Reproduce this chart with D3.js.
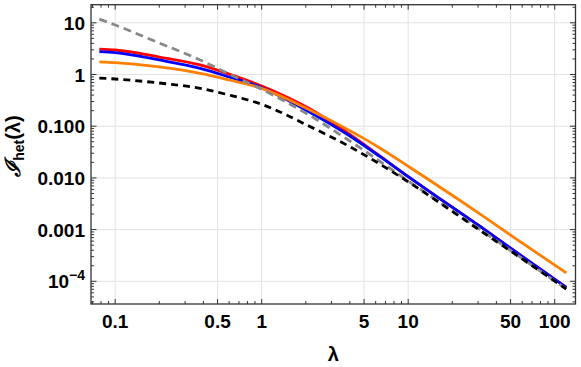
<!DOCTYPE html>
<html>
<head>
<meta charset="utf-8">
<script src="https://cdn.jsdelivr.net/npm/d3@7"></script>
<style>
  body { margin: 0; background: #fff; }
  text { font-family: "Liberation Sans", Arial, sans-serif; }
</style>
</head>
<body>
<div id="chart"></div>
<script>
// sample points (lambda, I_het)
var lambdas = [0.078, 0.1, 0.2, 0.38, 0.6, 1, 2.1, 4, 6.4, 10, 14, 31, 50, 120];
var redVals    = [3.11, 2.98, 2.18, 1.53, 1.02, 0.60, 0.222, 0.0692, 0.0266, 0.0106, 0.00543, 0.00115, 4.37e-4, 7.6e-5];
var blueVals   = [2.76, 2.64, 1.91, 1.32, 0.895, 0.556, 0.1906, 0.0646, 0.026, 0.0106, 0.00543, 0.00115, 4.37e-4, 7.6e-5];
var orangeVals = [1.75, 1.69, 1.40, 1.05, 0.783, 0.541, 0.211, 0.0822, 0.038, 0.0168, 0.00902, 0.001995, 7.85e-4, 1.45e-4];
var grayVals   = [11.8, 9.07, 4.07, 1.91, 1.02, 0.517, 0.165, 0.0517, 0.021, 0.0087, 0.00457, 0.001004, 3.94e-4, 7.1e-5];
var blackVals  = [0.855, 0.818, 0.685, 0.541, 0.401, 0.265, 0.101, 0.0401, 0.01857, 0.00841, 0.00447, 9.6e-4, 3.85e-4, 7.1e-5];

var xTickValues = [0.1, 0.5, 1, 5, 10, 50, 100];
var xTickLabels = ["0.1", "0.5", "1", "5", "10", "50", "100"];
var yTickValues = [10, 1, 0.1, 0.01, 0.001, 1e-4];
var yTickLabels = ["10", "1", "0.100", "0.010", "0.001", "10^-4"];

var width = 581, height = 367;
var pLeft = 91, pRight = 575.5, pTop = 4.7, pBottom = 304;

var x = d3.scaleLog().domain([0.0684, 138.7]).range([pLeft, pRight]);
var y = d3.scaleLog().domain([3.64e-5, 22.4]).range([pBottom, pTop]);

var svg = d3.select("#chart").append("svg")
    .attr("width", width)
    .attr("height", height);

// grid lines
svg.append("g").selectAll("line")
    .data(xTickValues)
    .enter().append("line")
    .attr("x1", function(d) { return x(d); })
    .attr("x2", function(d) { return x(d); })
    .attr("y1", pTop).attr("y2", pBottom)
    .attr("stroke", "#e3e3e3").attr("stroke-width", 1);
svg.append("g").selectAll("line")
    .data(yTickValues)
    .enter().append("line")
    .attr("y1", function(d) { return y(d); })
    .attr("y2", function(d) { return y(d); })
    .attr("x1", pLeft).attr("x2", pRight)
    .attr("stroke", "#e3e3e3").attr("stroke-width", 1);

// curves
var series = [
  {vals: redVals, color: "#ff0000", dash: null},
  {vals: blueVals, color: "#0000ff", dash: null},
  {vals: orangeVals, color: "#ff8000", dash: null},
  {vals: grayVals, color: "#888888", dash: "8,5"},
  {vals: blackVals, color: "#000000", dash: "7,5"}
];

var line = d3.line()
    .x(function(d) { return x(d[0]); })
    .y(function(d) { return y(d[1]); })
    .curve(d3.curveMonotoneX);

series.forEach(function(s) {
  var pts = lambdas.map(function(l, i) { return [l, s.vals[i]]; });
  svg.append("path")
      .datum(pts)
      .attr("d", line)
      .attr("fill", "none")
      .attr("stroke", s.color)
      .attr("stroke-width", 2.8)
      .attr("stroke-dasharray", s.dash);
});

// ticks on all four sides
var xMinor = [], yMinor = [];
for (var k = -2; k <= 2; k++) {
  for (var m = 2; m <= 9; m++) {
    var v = m * Math.pow(10, k);
    if (m != 5 && v > x.domain()[0] && v < x.domain()[1]) xMinor.push(v);
  }
}
for (var k = -5; k <= 1; k++) {
  for (var m = 2; m <= 9; m++) {
    var v = m * Math.pow(10, k);
    if (v > y.domain()[0] && v < y.domain()[1]) yMinor.push(v);
  }
}

var ticks = svg.append("g").attr("stroke", "#333").attr("stroke-width", 1);
function xTicks(vals, len) {
  vals.forEach(function(d) {
    ticks.append("line").attr("x1", x(d)).attr("x2", x(d)).attr("y1", pBottom).attr("y2", pBottom - len);
    ticks.append("line").attr("x1", x(d)).attr("x2", x(d)).attr("y1", pTop).attr("y2", pTop + len);
  });
}
function yTicks(vals, len) {
  vals.forEach(function(d) {
    ticks.append("line").attr("y1", y(d)).attr("y2", y(d)).attr("x1", pLeft).attr("x2", pLeft + len);
    ticks.append("line").attr("y1", y(d)).attr("y2", y(d)).attr("x1", pRight).attr("x2", pRight - len);
  });
}
xTicks(xTickValues, 5);
xTicks(xMinor, 3);
yTicks(yTickValues, 5.5);
yTicks(yMinor, 3);

// frame
svg.append("rect")
    .attr("x", pLeft).attr("y", pTop)
    .attr("width", pRight - pLeft).attr("height", pBottom - pTop)
    .attr("fill", "none").attr("stroke", "#333").attr("stroke-width", 1.3);

// tick labels
svg.append("g").selectAll("text")
    .data(xTickValues)
    .enter().append("text")
    .attr("x", function(d) { return x(d); })
    .attr("y", 328)
    .attr("text-anchor", "middle")
    .style("font-size", "19px")
    .style("font-weight", "bold")
    .text(function(d, i) { return xTickLabels[i]; });

yTickValues.forEach(function(d, i) {
  var t = svg.append("text")
      .attr("x", 85)
      .attr("y", y(d) + 7)
      .attr("text-anchor", "end")
      .style("font-size", "19px")
      .style("font-weight", "bold");
  var lab = yTickLabels[i];
  if (lab.indexOf("^") >= 0) {
    var parts = lab.split("^");
    t.append("tspan").text(parts[0]);
    t.append("tspan").attr("dy", -8).style("font-size", "14px").text(parts[1].replace("-", "\u2212"));
  } else {
    t.text(lab);
  }
});

// axis labels
svg.append("text")
    .attr("x", (pLeft + pRight) / 2)
    .attr("y", 361)
    .attr("text-anchor", "middle")
    .style("font-size", "20px")
    .style("font-weight", "bold")
    .text("\u03bb");

var yl = svg.append("text")
    .attr("transform", "translate(20,146) rotate(-90)")
    .attr("text-anchor", "middle")
    .style("font-weight", "bold");
yl.append("tspan").style("font-size", "21px").style("font-style", "italic")
    .style("font-family", "'DejaVu Serif', serif").text("\u2110");
yl.append("tspan").attr("dy", 4).style("font-size", "14px").text("het");
yl.append("tspan").attr("dy", -4).style("font-size", "20px").text("(\u03bb)");
</script>
</body>
</html>
